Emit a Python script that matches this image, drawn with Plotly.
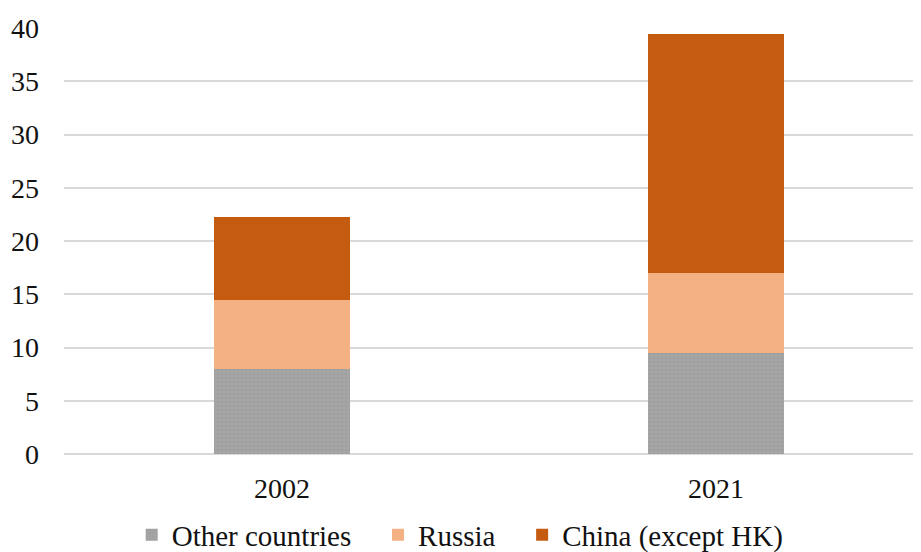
import plotly.graph_objects as go

years = ["2002", "2021"]
other = [7.95, 9.5]
russia = [6.5, 7.45]
china = [7.8, 22.45]
y_ticks = [0, 5, 10, 15, 20, 25, 30, 35, 40]
series_names = ["Other countries", "Russia", "China (except HK)"]

FONT = "Liberation Serif, Times New Roman, serif"
PAD = "\u00a0\u00a0\u00a0"  # extra spacing between legend entries

fig = go.Figure()
fig.add_trace(go.Bar(
    x=years, y=other, name=series_names[0] + PAD,
    marker=dict(color="#a5a5a5", line=dict(width=0),
                pattern=dict(shape=".", fgcolor="#939393", bgcolor="#a5a5a5",
                             size=4, solidity=0.25)),
    width=0.313,
))
fig.add_trace(go.Bar(
    x=years, y=russia, name=series_names[1] + PAD,
    marker=dict(color="#f4b183", line=dict(width=0)),
    width=0.313,
))
fig.add_trace(go.Bar(
    x=years, y=china, name=series_names[2],
    marker=dict(color="#c55a11", line=dict(width=0)),
    width=0.313,
))

# page body has an 8px default margin, so the figure is sized to fit the window
fig.update_layout(
    barmode="stack",
    width=913, height=544,
    margin=dict(l=56, r=0, t=20, b=98, autoexpand=False),
    paper_bgcolor="white", plot_bgcolor="white",
    font=dict(family=FONT, size=28, color="#111111"),
    legend=dict(orientation="h", x=0.079, xanchor="left", y=-0.19, yanchor="middle",
                font=dict(family=FONT, size=29), itemwidth=30, traceorder="normal",
                bgcolor="rgba(0,0,0,0)"),
    bargap=0,
)
fig.update_xaxes(type="category", range=[-0.502, 1.472], showgrid=False, showline=False,
                 ticks="", tickfont=dict(size=28), ticklabelstandoff=15, automargin=False)
fig.update_yaxes(range=[0, 40], tickvals=y_ticks, showgrid=True, gridcolor="#d9d9d9", gridwidth=1.5,
                 zeroline=True, zerolinecolor="#d9d9d9", zerolinewidth=1.5, showline=False,
                 ticks="", tickfont=dict(size=28), ticklabelstandoff=24, automargin=False)

fig.write_html("out.html")
